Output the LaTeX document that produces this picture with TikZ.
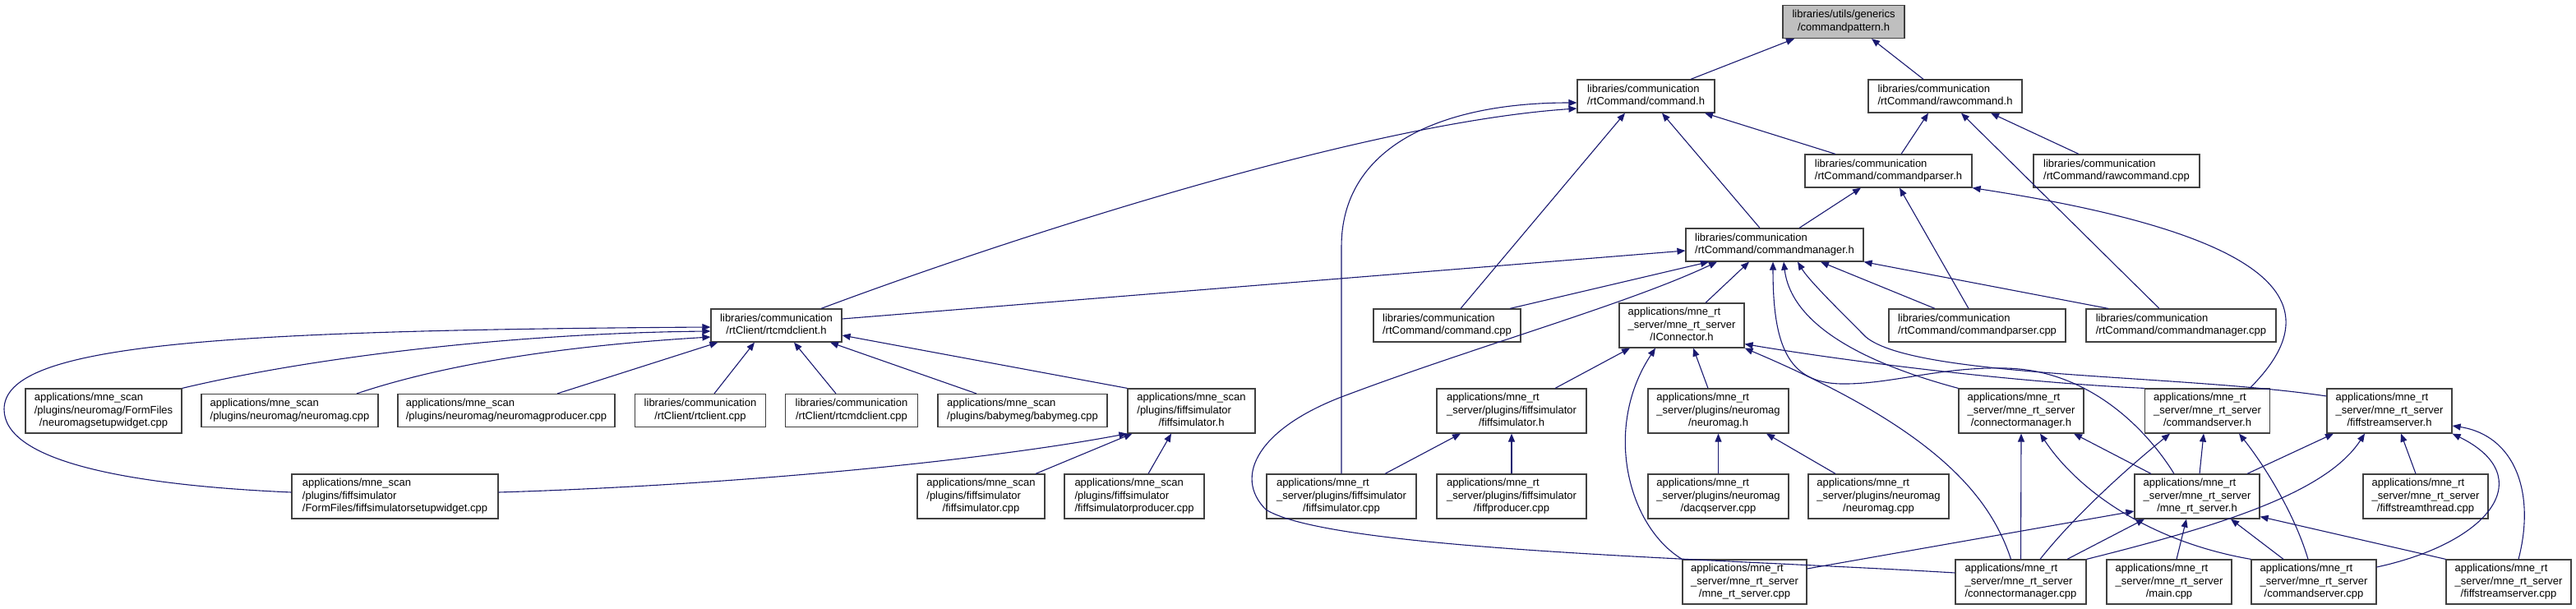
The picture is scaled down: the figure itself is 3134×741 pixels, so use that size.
\documentclass[tikz,border=0pt]{standalone}
\usepackage{fontspec}
\setmainfont{Liberation Sans}
\usetikzlibrary{arrows.meta}
\definecolor{edgeblue}{RGB}{25,25,112}
\definecolor{rootgray}{RGB}{191,191,191}
% all lines left, last line centred
\newcommand{\flabel}[2]{\begin{tabular}{@{}l@{}}#1\\\multicolumn{1}{@{}c@{}}{#2}\end{tabular}}

\begin{document}
\begin{tikzpicture}[x=1pt, y=-1pt,
    file/.style={draw=black!75, line width=1.2pt, fill=white, inner sep=0pt,
        minimum height=40pt, font=\fontsize{13}{15.3}\selectfont},
    tall/.style={minimum height=54pt},
    inc/.style={draw=edgeblue, line width=1.1pt, -{Triangle[length=10pt,width=8pt]}}]
    \useasboundingbox (0,0) rectangle (3134,741);

    % Root header
    \node[file, fill=rootgray, minimum width=148] (pattern) at (2243,26.5) {\flabel{libraries/utils/generics}{/commandpattern.h}};

    % rtCommand headers and sources
    \node[file, minimum width=167] (cmdh) at (2002.5,117) {\flabel{libraries/communication}{/rtCommand/command.h}};
    \node[file, minimum width=187] (rawh) at (2366.5,117) {\flabel{libraries/communication}{/rtCommand/rawcommand.h}};
    \node[file, minimum width=203] (parserh) at (2297.5,208) {\flabel{libraries/communication}{/rtCommand/commandparser.h}};
    \node[file, minimum width=202] (rawcpp) at (2575,208) {\flabel{libraries/communication}{/rtCommand/rawcommand.cpp}};
    \node[file, minimum width=216] (managerh) at (2159,298) {\flabel{libraries/communication}{/rtCommand/commandmanager.h}};

    % Fourth row
    \node[file, minimum width=159] (rtcmdclienth) at (944.5,396) {\flabel{libraries/communication}{/rtClient/rtcmdclient.h}};
    \node[file, minimum width=179] (cmdcpp) at (1760.5,396) {\flabel{libraries/communication}{/rtCommand/command.cpp}};
    \node[file, tall, minimum width=152] (iconnector) at (2046,396) {\flabel{applications/mne\_rt\\\_server/mne\_rt\_server}{/IConnector.h}};
    \node[file, minimum width=215] (parsercpp) at (2405.5,396) {\flabel{libraries/communication}{/rtCommand/commandparser.cpp}};
    \node[file, minimum width=231] (managercpp) at (2653.5,396) {\flabel{libraries/communication}{/rtCommand/commandmanager.cpp}};

    % Fifth row
    \node[file, tall, minimum width=190] (neuromagsetup) at (126,500) {\flabel{applications/mne\_scan\\/plugins/neuromag/FormFiles}{/neuromagsetupwidget.cpp}};
    \node[file, minimum width=215] (scanneuromag) at (352.5,499.5) {\flabel{applications/mne\_scan}{/plugins/neuromag/neuromag.cpp}};
    \node[file, minimum width=264] (scanproducer) at (616,499.5) {\flabel{applications/mne\_scan}{/plugins/neuromag/neuromagproducer.cpp}};
    \node[file, minimum width=158.5] (rtclientcpp) at (852,499.5) {\flabel{libraries/communication}{/rtClient/rtclient.cpp}};
    \node[file, minimum width=161.5] (rtcmdclientcpp) at (1036,499.5) {\flabel{libraries/communication}{/rtClient/rtcmdclient.cpp}};
    \node[file, minimum width=206] (babymeg) at (1244,499.5) {\flabel{applications/mne\_scan}{/plugins/babymeg/babymeg.cpp}};
    \node[file, tall, minimum width=155] (scanfiffsimh) at (1449.5,500) {\flabel{applications/mne\_scan\\/plugins/fiffsimulator}{/fiffsimulator.h}};
    \node[file, tall, minimum width=182] (rtfiffsimh) at (1839,500) {\flabel{applications/mne\_rt\\\_server/plugins/fiffsimulator}{/fiffsimulator.h}};
    \node[file, tall, minimum width=171] (neuromagh) at (2090.5,500) {\flabel{applications/mne\_rt\\\_server/plugins/neuromag}{/neuromag.h}};
    \node[file, tall, minimum width=152] (connmgrh) at (2459,500) {\flabel{applications/mne\_rt\\\_server/mne\_rt\_server}{/connectormanager.h}};
    \node[file, tall, minimum width=152] (cmdserverh) at (2685.5,500) {\flabel{applications/mne\_rt\\\_server/mne\_rt\_server}{/commandserver.h}};
    \node[file, tall, minimum width=152] (fiffstreamh) at (2907,500) {\flabel{applications/mne\_rt\\\_server/mne\_rt\_server}{/fiffstreamserver.h}};

    % Sixth row
    \node[file, tall, minimum width=251] (setupwidget) at (480.5,604) {\flabel{applications/mne\_scan\\/plugins/fiffsimulator}{/FormFiles/fiffsimulatorsetupwidget.cpp}};
    \node[file, tall, minimum width=155] (scanfiffsimcpp) at (1193.5,604) {\flabel{applications/mne\_scan\\/plugins/fiffsimulator}{/fiffsimulator.cpp}};
    \node[file, tall, minimum width=170] (scanfiffsimprod) at (1380,604) {\flabel{applications/mne\_scan\\/plugins/fiffsimulator}{/fiffsimulatorproducer.cpp}};
    \node[file, tall, minimum width=182] (rtfiffsimcpp) at (1632,604) {\flabel{applications/mne\_rt\\\_server/plugins/fiffsimulator}{/fiffsimulator.cpp}};
    \node[file, tall, minimum width=182] (fiffproducer) at (1839,604) {\flabel{applications/mne\_rt\\\_server/plugins/fiffsimulator}{/fiffproducer.cpp}};
    \node[file, tall, minimum width=171] (dacqserver) at (2090.5,604) {\flabel{applications/mne\_rt\\\_server/plugins/neuromag}{/dacqserver.cpp}};
    \node[file, tall, minimum width=171] (rtneuromagcpp) at (2285.5,604) {\flabel{applications/mne\_rt\\\_server/plugins/neuromag}{/neuromag.cpp}};
    \node[file, tall, minimum width=152] (rtserverh) at (2673,604) {\flabel{applications/mne\_rt\\\_server/mne\_rt\_server}{/mne\_rt\_server.h}};
    \node[file, tall, minimum width=152] (fiffthread) at (2951,604) {\flabel{applications/mne\_rt\\\_server/mne\_rt\_server}{/fiffstreamthread.cpp}};

    % Bottom row
    \node[file, tall, minimum width=151] (rtservercpp) at (2122.5,708) {\flabel{applications/mne\_rt\\\_server/mne\_rt\_server}{/mne\_rt\_server.cpp}};
    \node[file, tall, minimum width=159] (connmgrcpp) at (2458.5,708) {\flabel{applications/mne\_rt\\\_server/mne\_rt\_server}{/connectormanager.cpp}};
    \node[file, tall, minimum width=152] (maincpp) at (2639,708) {\flabel{applications/mne\_rt\\\_server/mne\_rt\_server}{/main.cpp}};
    \node[file, tall, minimum width=152] (cmdservercpp) at (2815,708) {\flabel{applications/mne\_rt\\\_server/mne\_rt\_server}{/commandserver.cpp}};
    \node[file, tall, minimum width=152] (fiffstreamcpp) at (3052,708) {\flabel{applications/mne\_rt\\\_server/mne\_rt\_server}{/fiffstreamserver.cpp}};

    % Includes of the upper headers
    \draw[inc] ([xshift=54.5]cmdh.north) -- ([xshift=-60]pattern.south);
    \draw[inc] ([xshift=-26.5]rawh.north) -- ([xshift=34]pattern.south);
    \draw[inc] ([xshift=-64.5]parserh.north) -- ([xshift=71.5]cmdh.south);
    \draw[inc] ([xshift=15.5]parserh.north) -- ([xshift=-20.5]rawh.south);
    \draw[inc] ([xshift=-46]rawcpp.north) -- ([xshift=55.5]rawh.south);
    \draw[inc] ([xshift=-18]managerh.north) -- ([xshift=19.5]cmdh.south);
    \draw[inc] ([xshift=30]managerh.north) -- ([xshift=-33.5]parserh.south);
    \draw[inc] ([xshift=-10.5]parsercpp.north) -- ([xshift=13.5]parserh.south);
    \draw[inc] ([xshift=-26.5]managercpp.north) -- ([xshift=19.5]rawh.south);
    \draw[inc] ([xshift=51.5]cmdserverh.north) .. controls (2830,380) and (2800,290) .. (parserh.south east);
    \draw[inc] ([xshift=-88.5]managercpp.north) -- (managerh.south east);
    \draw[inc] ([xshift=-51.5]parsercpp.north) -- ([xshift=56]managerh.south);
    \draw[inc] ([xshift=16.5]cmdcpp.north) -- ([xshift=-25.5]cmdh.south);
    \draw[inc] ([xshift=76.5]cmdcpp.north) -- ([xshift=-80]managerh.south);
    \draw[inc] ([xshift=29]iconnector.north) -- ([xshift=-31]managerh.south);
    \draw[inc] ([xshift=54.5]rtcmdclienth.north) .. controls (1200,300) and (1650,150) .. ([yshift=-15]cmdh.west);
    \draw[inc] ([yshift=8]rtcmdclienth.east) -- ([yshift=-7]managerh.west);
    \draw[inc] (rtfiffsimcpp.north) -- (1632,300) .. controls (1632,180) and (1750,125) .. ([yshift=-8]cmdh.west);

    % Curves into commandmanager.h and IConnector.h
    \draw[inc] ([xshift=-28]rtserverh.north) .. controls (2610,520) and (2540,450) .. (2440,448)
        .. controls (2360,446) and (2300,468) .. (2240,467) .. controls (2175,466) and (2157,420) .. ([xshift=-2]managerh.south);
    \draw[inc] (connmgrh.north west) .. controls (2280,445) and (2180,400) .. ([xshift=11]managerh.south);
    \draw[inc] ([yshift=18]fiffstreamh.west) .. controls (2650,455) and (2330,460) .. (2270,410)
        .. controls (2230,370) and (2200,340) .. ([xshift=28]managerh.south);
    \draw[inc] ([yshift=11]connmgrcpp.west) .. controls (2100,680) and (1620,670) .. (1540,620)
        .. controls (1500,580) and (1530,520) .. (1640,480) .. controls (1800,420) and (1980,370) .. ([xshift=-70]managerh.south);
    \draw[inc] (cmdserverh.north west) .. controls (2450,465) and (2250,440) .. ([yshift=5]iconnector.south east);
    \draw[inc] ([xshift=-12]connmgrcpp.north) .. controls (2420,600) and (2350,520) .. (iconnector.south east);
    \draw[inc] ([xshift=53]rtfiffsimh.north) -- ([xshift=-63]iconnector.south);
    \draw[inc] ([xshift=-12.5]neuromagh.north) -- ([xshift=14]iconnector.south);
    \draw[inc] (rtservercpp.north west) .. controls (1980,640) and (1950,520) .. ([xshift=-32]iconnector.south);

    % mne_rt_server plugins and server files
    \draw[inc] ([xshift=53]rtfiffsimcpp.north) -- ([xshift=-62]rtfiffsimh.south);
    \draw[inc] (fiffproducer.north) -- (rtfiffsimh.south);
    \draw[inc] (dacqserver.north) -- (neuromagh.south);
    \draw[inc] ([xshift=-52.5]rtneuromagcpp.north) -- ([xshift=58.5]neuromagh.south);
    \draw[inc] ([xshift=-56]rtserverh.north) -- ([xshift=64]connmgrh.south);
    \draw[inc] ([xshift=3]rtserverh.north) -- ([xshift=-4.5]cmdserverh.south);
    \draw[inc] ([xshift=61]rtserverh.north) -- ([xshift=-68]fiffstreamh.south);
    \draw[inc] ([xshift=-12]fiffthread.north) -- ([xshift=14]fiffstreamh.south);
    \draw[inc] (connmgrcpp.north) -- (connmgrh.south);
    \draw[inc] ([xshift=23.5]connmgrcpp.north) .. controls (2530,620) and (2600,560) .. ([xshift=-45.5]cmdserverh.south);
    \draw[inc] ([xshift=56.5]connmgrcpp.north) -- ([xshift=-64]rtserverh.south);
    \draw[inc] (connmgrcpp.north east) .. controls (2700,640) and (2830,600) .. ([xshift=-30]fiffstreamh.south);
    \draw[inc] (cmdservercpp.north west) .. controls (2620,660) and (2530,600) .. ([xshift=23]connmgrh.south);
    \draw[inc] ([xshift=-37]cmdservercpp.north) -- ([xshift=41]rtserverh.south);
    \draw[inc] ([xshift=-7]cmdservercpp.north) .. controls (2790,620) and (2750,560) .. ([xshift=38.5]cmdserverh.south);
    \draw[inc] ([yshift=18]cmdservercpp.east) .. controls (3030,660) and (3090,580) .. (fiffstreamh.south east);
    \draw[inc] ([xshift=12]fiffstreamcpp.north) .. controls (3085,600) and (3060,530) .. ([yshift=-18]fiffstreamh.east);
    \draw[inc] (fiffstreamcpp.north west) -- ([yshift=3]rtserverh.south east);
    \draw[inc] ([xshift=9]maincpp.north) -- ([xshift=-13]rtserverh.south);
    \draw[inc] ([yshift=16]rtservercpp.east) -- ([yshift=-18]rtserverh.west);

    % mne_scan side
    \draw[inc] (neuromagsetup.north east) .. controls (400,430) and (650,405) .. ([yshift=-7]rtcmdclienth.west);
    \draw[inc] ([xshift=81.5]scanneuromag.north) .. controls (550,440) and (700,420) .. ([yshift=-14]rtcmdclienth.west);
    \draw[inc] ([xshift=62]scanproducer.north) -- ([xshift=9]rtcmdclienth.south west);
    \draw[inc] ([yshift=5]setupwidget.west) .. controls (150,590) and (5,560) .. (5,498)
        .. controls (5,420) and (250,402) .. ([yshift=-2]rtcmdclienth.west);
    \draw[inc] ([xshift=17]rtclientcpp.north) -- ([xshift=-26.5]rtcmdclienth.south);
    \draw[inc] ([xshift=-19]rtcmdclientcpp.north) -- ([xshift=21.5]rtcmdclienth.south);
    \draw[inc] ([xshift=-56]babymeg.north) -- ([xshift=65.5]rtcmdclienth.south);
    \draw[inc] (scanfiffsimh.north west) -- ([yshift=-12]rtcmdclienth.east);
    \draw[inc] ([yshift=5]setupwidget.east) .. controls (900,590) and (1200,560) .. (scanfiffsimh.south west);
    \draw[inc] ([xshift=66.5]scanfiffsimcpp.north) -- ([xshift=6]scanfiffsimh.south west);
    \draw[inc] ([xshift=17]scanfiffsimprod.north) -- ([xshift=-24.5]scanfiffsimh.south);
\end{tikzpicture}
\end{document}
